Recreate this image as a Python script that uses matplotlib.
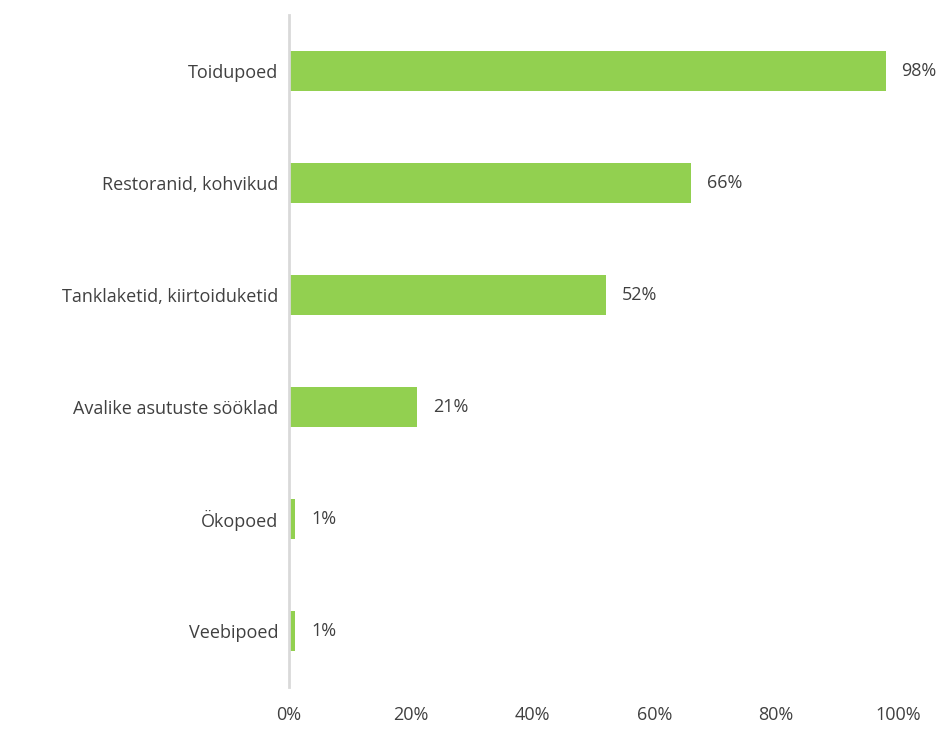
import matplotlib.pyplot as plt
from matplotlib.ticker import FuncFormatter

plt.rcParams['font.family'] = ['Open Sans', 'DejaVu Sans']

# Kategooriad ja osakaalud (%)
kategooriad = ['Toidupoed', 'Restoranid, kohvikud', 'Tanklaketid, kiirtoiduketid',
               'Avalike asutuste sööklad', 'Ökopoed', 'Veebipoed']
osakaal = [98, 66, 52, 21, 1, 1]

tekst_varv = '#404040'
riba_varv = '#92D050'

fig = plt.figure(figsize=(9.45, 7.29), dpi=100)
ax = fig.add_axes([0.306, 0.058, 0.644, 0.921])

y = list(range(len(kategooriad)))[::-1]
ax.barh(y, osakaal, height=0.36, color=riba_varv)

for yi, v in zip(y, osakaal):
    ax.text(v + 2.6, yi, f'{v}%', va='center', ha='left', fontsize=13, color=tekst_varv)

ax.set_xlim(0, 100)
ax.set_ylim(-0.5, len(kategooriad) - 0.5)
ax.set_yticks(y)
ax.set_yticklabels(kategooriad, fontsize=13, color=tekst_varv)
ax.set_xticks(range(0, 101, 20))
ax.xaxis.set_major_formatter(FuncFormatter(lambda v, p: f'{v:.0f}%'))
ax.tick_params(axis='x', labelsize=13, colors=tekst_varv, length=0, pad=14)
ax.tick_params(axis='y', length=0, pad=8)

for s in ['top', 'right', 'bottom']:
    ax.spines[s].set_visible(False)
ax.spines['left'].set_color('#d9d9d9')
ax.spines['left'].set_linewidth(2)

fig.savefig('out.png', dpi=100)
